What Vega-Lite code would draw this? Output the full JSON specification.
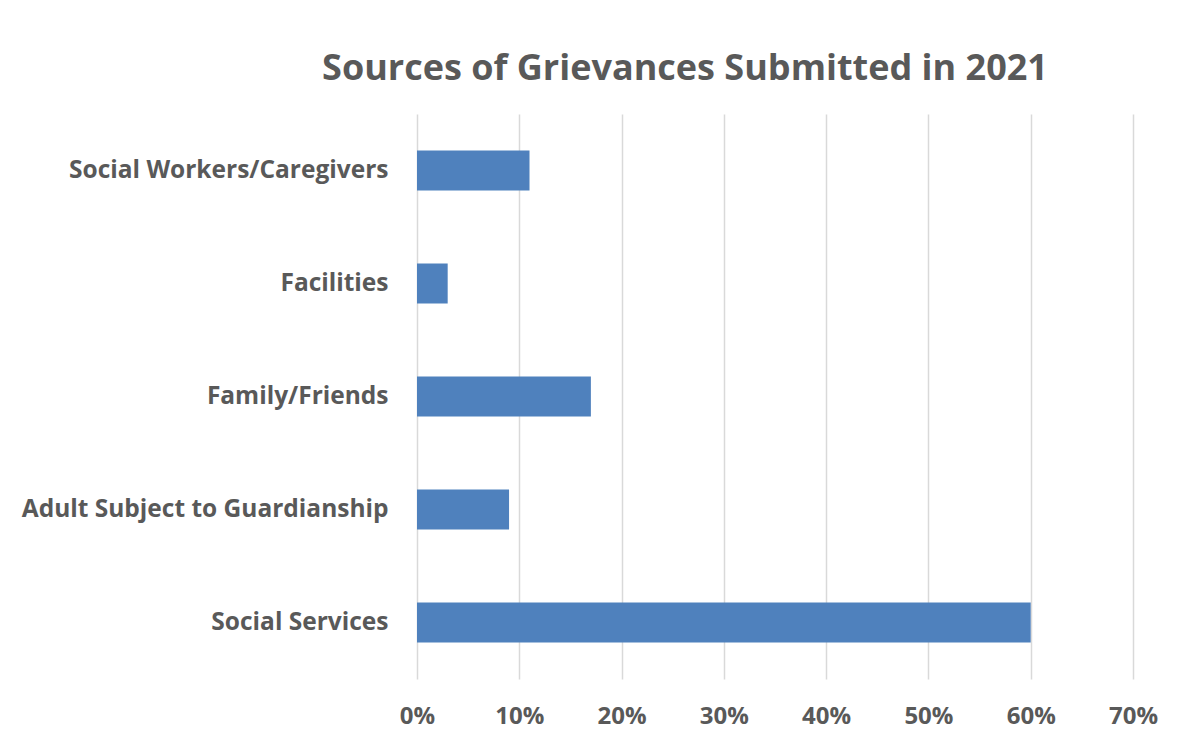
{
  "$schema": "https://vega.github.io/schema/vega-lite/v6.json",
  "width": 716,
  "height": 565,
  "autosize": {"type": "none"},
  "padding": {"left": 417, "top": 114, "right": 45, "bottom": 63},
  "background": "white",
  "title": {
    "text": "Sources of Grievances Submitted in 2021",
    "font": "Open Sans",
    "fontSize": 36,
    "fontWeight": "bold",
    "color": "#595959",
    "anchor": "middle",
    "frame": "group",
    "dx": -90,
    "baseline": "alphabetic",
    "offset": -2
  },
  "data": {
    "values": [
      {"source": "Social Workers/Caregivers", "share": 0.11},
      {"source": "Facilities", "share": 0.03},
      {"source": "Family/Friends", "share": 0.17},
      {"source": "Adult Subject to Guardianship", "share": 0.09},
      {"source": "Social Services", "share": 0.60}
    ]
  },
  "mark": {"type": "bar", "color": "#4F81BD"},
  "encoding": {
    "y": {
      "field": "source",
      "type": "nominal",
      "sort": null,
      "scale": {"paddingInner": 0.646, "paddingOuter": 0.323},
      "axis": {
        "title": null,
        "domain": false,
        "ticks": false,
        "labelFont": "Open Sans",
        "labelFontSize": 24.5,
        "labelFontWeight": "bold",
        "labelColor": "#595959",
        "labelPadding": 29,
        "labelLimit": 500
      }
    },
    "x": {
      "field": "share",
      "type": "quantitative",
      "scale": {"domain": [0, 0.7], "nice": false},
      "axis": {
        "title": null,
        "format": ".0%",
        "values": [0, 0.1, 0.2, 0.3, 0.4, 0.5, 0.6, 0.7],
        "domain": false,
        "ticks": false,
        "grid": true,
        "gridColor": "#D9D9D9",
        "gridWidth": 1.5,
        "labelFlush": false,
        "labelFont": "Open Sans",
        "labelFontSize": 24,
        "labelFontWeight": "bold",
        "labelColor": "#595959",
        "labelPadding": 25
      }
    }
  },
  "config": {"view": {"stroke": null}}
}
